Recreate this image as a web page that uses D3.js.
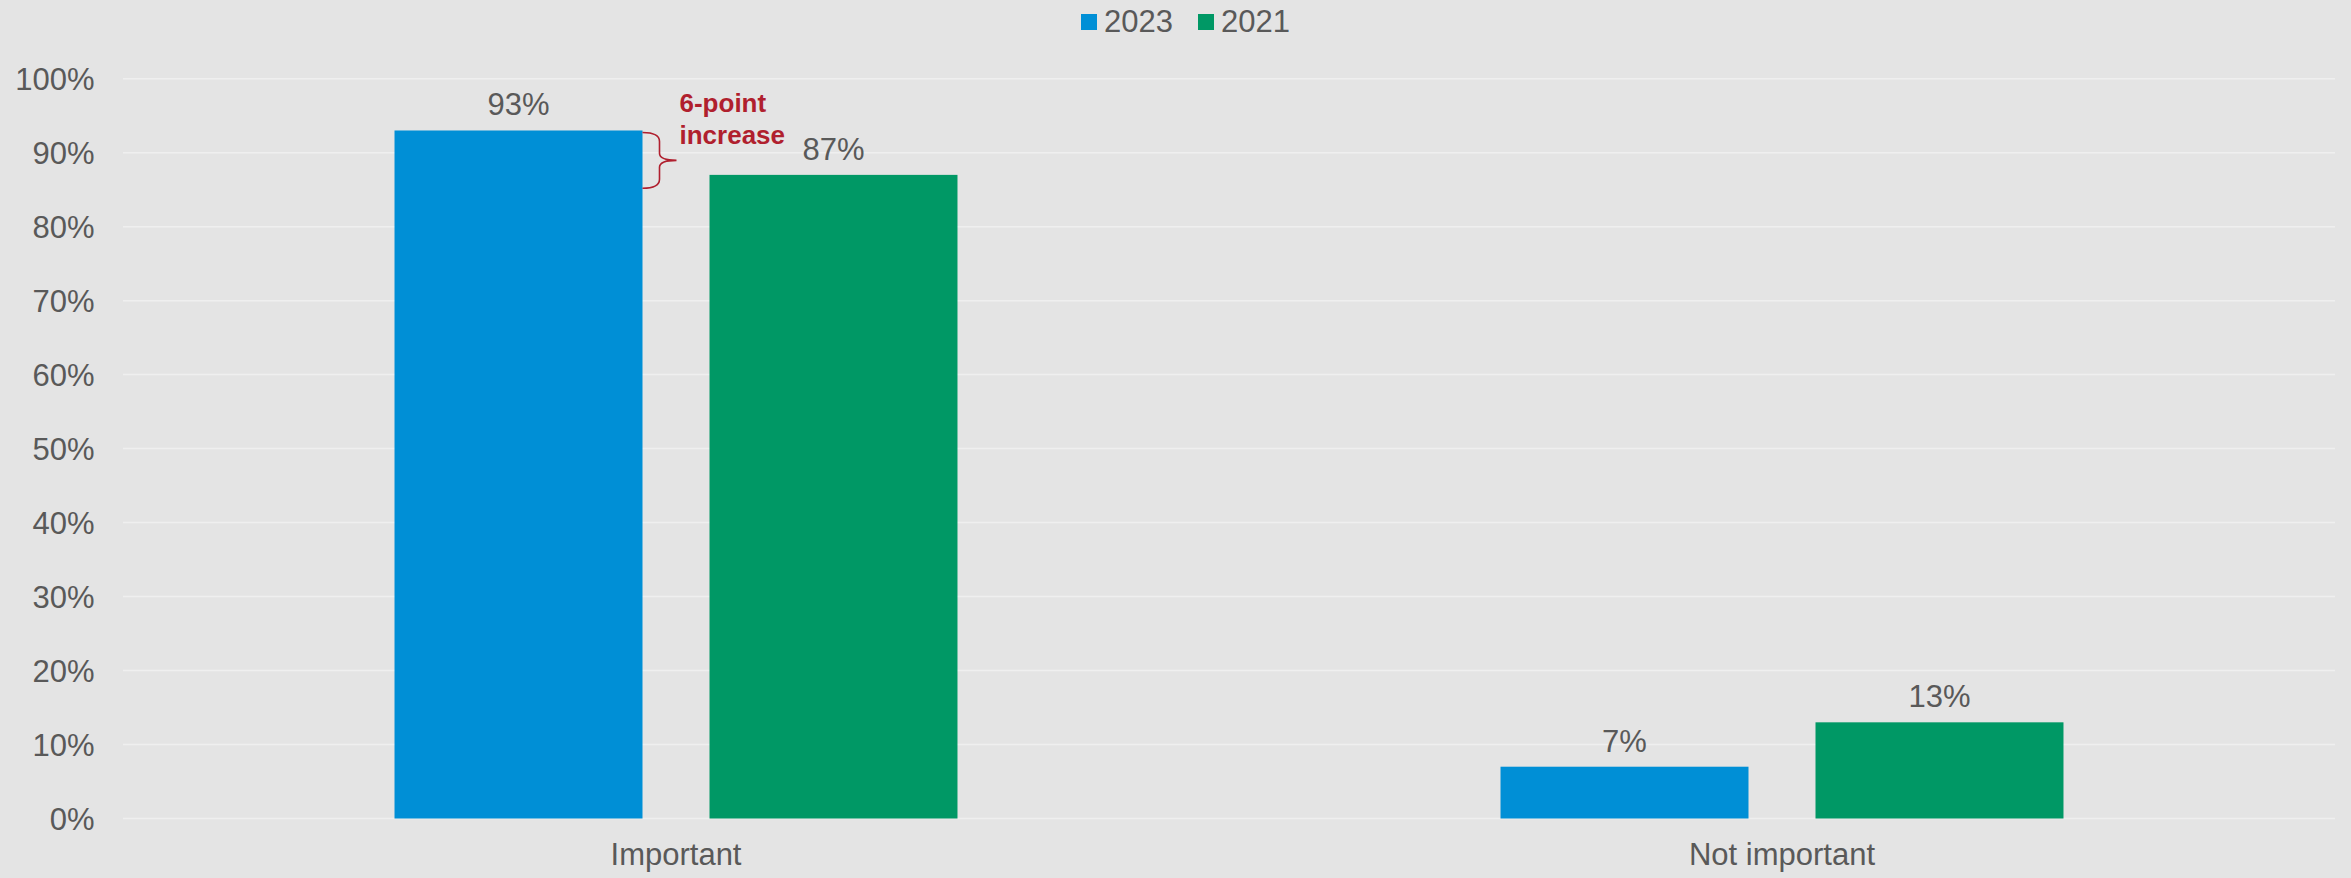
<!DOCTYPE html>
<html>
<head>
<meta charset="utf-8">
<script src="https://cdn.jsdelivr.net/npm/d3@7"></script>
<style>
  html, body { margin: 0; padding: 0; background: #E4E4E4; }
  svg { display: block; }
  text { font-family: "Liberation Sans", Arial, sans-serif; }
</style>
</head>
<body>
<svg id="chart" width="2351" height="878"></svg>
<script>
// ---- data ----
const categories = ["Important", "Not important"];
const seriesNames = ["2023", "2021"];
const values2023 = [0.93, 0.07];
const values2021 = [0.87, 0.13];
const yTicks = [0, 0.1, 0.2, 0.3, 0.4, 0.5, 0.6, 0.7, 0.8, 0.9, 1.0];
const annotationLines = ["6-point", "increase"];
const annotationRange = [0.93, 0.852]; // bracket spans from 2023 bar top down

// ---- styles ----
const colors = { "2023": "#008FD6", "2021": "#009865" };
const textColor = "#595959";
const gridColor = "#EFEFEF";
const annoColor = "#B01F2E";

const W = 2351, H = 878;
const margin = { left: 123, right: 16, top: 79, bottom: 60 };
const plotBottom = 818.5;

const svg = d3.select("#chart");
svg.append("rect").attr("width", W).attr("height", H).attr("fill", "#E4E4E4");

const x0 = d3.scaleBand().domain(categories).range([margin.left, W - margin.right]).paddingInner(0).paddingOuter(0);
const x1 = d3.scaleBand().domain(seriesNames).range([0, x0.bandwidth()]).paddingInner(0.2127).paddingOuter(0.862);
const y = d3.scaleLinear().domain([0, 1]).range([plotBottom, 78.7]);

// gridlines
svg.append("g").selectAll("line").data(yTicks).join("line")
  .attr("x1", margin.left).attr("x2", W - margin.right)
  .attr("y1", d => y(d)).attr("y2", d => y(d))
  .attr("stroke", gridColor).attr("stroke-width", 1.5);

// y axis labels
const yAxis = d3.axisLeft(y).tickValues(yTicks).tickFormat(d3.format(".0%")).tickSize(0).tickPadding(0);
const yg = svg.append("g").attr("transform", `translate(94.5,0)`).call(yAxis);
yg.select(".domain").remove();
yg.selectAll("text").attr("font-size", 31).attr("fill", textColor)
  .attr("font-family", "Liberation Sans, Arial, sans-serif").attr("dy", "0.36em");

// x axis labels
const xAxis = d3.axisBottom(x0).tickSize(0).tickPadding(0);
const xg = svg.append("g").attr("transform", `translate(0,${plotBottom})`).call(xAxis);
xg.select(".domain").remove();
xg.selectAll("text").attr("font-size", 31).attr("fill", textColor)
  .attr("font-family", "Liberation Sans, Arial, sans-serif").attr("dy", null).attr("y", 46.5);

// bars
const rows = categories.map((c, i) => ({ cat: c, vals: [
  { s: "2023", v: values2023[i] }, { s: "2021", v: values2021[i] } ] }));

const groups = svg.append("g").selectAll("g").data(rows).join("g")
  .attr("transform", d => `translate(${x0(d.cat)},0)`);

groups.selectAll("rect").data(d => d.vals).join("rect")
  .attr("x", d => x1(d.s)).attr("width", x1.bandwidth())
  .attr("y", d => y(d.v)).attr("height", d => y(0) - y(d.v))
  .attr("fill", d => colors[d.s]);

groups.selectAll("text.val").data(d => d.vals).join("text")
  .attr("class", "val")
  .attr("x", d => x1(d.s) + x1.bandwidth() / 2)
  .attr("y", d => y(d.v) - 15)
  .attr("text-anchor", "middle")
  .attr("font-size", 31).attr("fill", textColor)
  .text(d => d3.format(".0%")(d.v));

// legend
const legend = svg.append("g");
const legendX = [1081, 1198];
seriesNames.forEach((s, i) => {
  legend.append("rect").attr("x", legendX[i]).attr("y", 14).attr("width", 16).attr("height", 16).attr("fill", colors[s]);
  legend.append("text").attr("x", legendX[i] + 23).attr("y", 31.7)
    .attr("font-size", 31).attr("fill", textColor).text(s);
});

// annotation bracket
const bx = x0("Important") + x1("2023") + x1.bandwidth();
const yt = y(annotationRange[0]) + 2, yb = y(annotationRange[1]);
const ym = (yt + yb) / 2;
const vx = bx + 17, tx = bx + 34;
const p = d3.path();
p.moveTo(bx, yt);
p.quadraticCurveTo(vx, yt, vx, yt + 9);
p.lineTo(vx, ym - 7);
p.quadraticCurveTo(vx, ym, tx, ym);
p.quadraticCurveTo(vx, ym, vx, ym + 7);
p.lineTo(vx, yb - 9);
p.quadraticCurveTo(vx, yb, bx, yb);
svg.append("path").attr("d", p.toString()).attr("fill", "none")
  .attr("stroke", annoColor).attr("stroke-width", 1.6);

const at = svg.append("text").attr("x", bx + 37).attr("y", 112)
  .attr("font-size", 26).attr("font-weight", "bold").attr("fill", annoColor);
annotationLines.forEach((l, i) => {
  at.append("tspan").attr("x", bx + 37).attr("dy", i === 0 ? 0 : 32).text(l);
});
</script>
</body>
</html>
